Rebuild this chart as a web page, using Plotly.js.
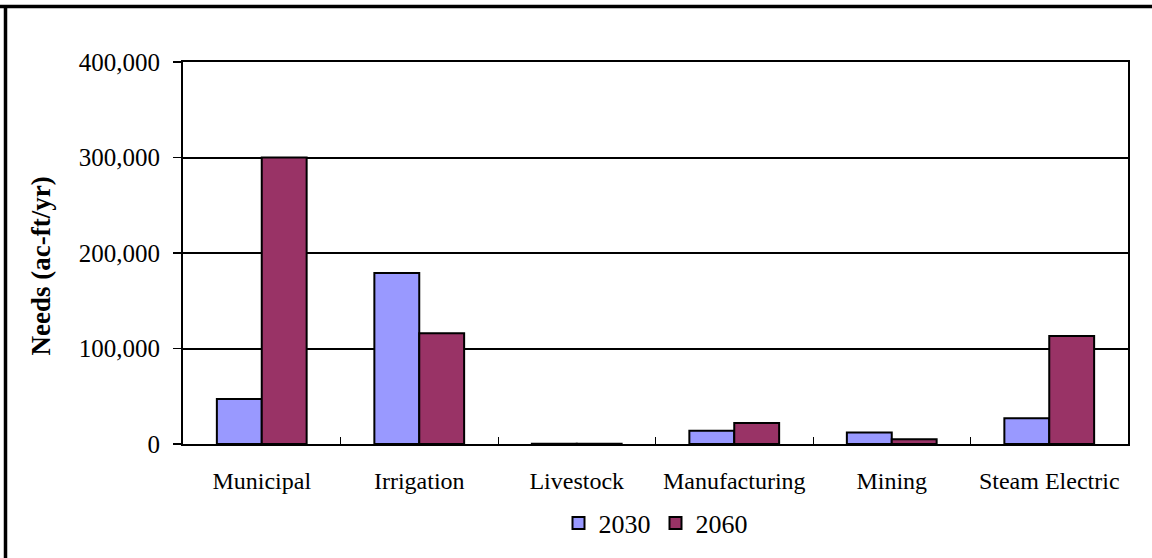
<!DOCTYPE html>
<html>
<head>
<meta charset="utf-8">
<script src="https://cdn.plot.ly/plotly-3.0.1.min.js"></script>
<style>
  html, body { margin: 0; padding: 0; background: #fff; }
  #chart { width: 1152px; height: 558px; }
</style>
</head>
<body>
<div id="chart"></div>
<script>
// Projected water needs by use category (ac-ft/yr)
const categories = ["Municipal", "Irrigation", "Livestock", "Manufacturing", "Mining", "Steam Electric"];
const seriesNames = ["2030", "2060"];
const needs2030 = [47000, 179000, 200, 14000, 12000, 27000];
const needs2060 = [300000, 116000, 300, 22000, 5000, 113000];
const yTickValues = [0, 100000, 200000, 300000, 400000];
const yTitle = "Needs (ac-ft/yr)";

const colors = ["#9999FF", "#993366"];
const serif = "Liberation Serif";

const W = 1152, H = 558;
const margin = { l: 183, r: 24, t: 62, b: 114 };
const plotW = W - margin.l - margin.r;
const plotH = H - margin.t - margin.b;
// pixel -> paper coordinates, for items placed outside the plot area
const px = x => (x - margin.l) / plotW;
const py = y => (H - margin.b - y) / plotH;

const traces = [needs2030, needs2060].map((vals, i) => ({
  type: "bar",
  name: seriesNames[i],
  x: categories,
  y: vals,
  marker: { color: colors[i], line: { color: "#000", width: 2 } },
  hoverinfo: "x+y+name"
}));

const layout = {
  width: W,
  height: H,
  margin: margin,
  paper_bgcolor: "#fff",
  plot_bgcolor: "#fff",
  font: { family: serif, color: "#000", size: 24 },
  barmode: "group",
  bargap: 0.43,
  bargroupgap: 0,
  showlegend: true,
  legend: {
    orientation: "h",
    x: 0.5, xanchor: "center",
    y: py(523), yanchor: "middle",
    font: { family: serif, size: 26, color: "#000" },
    traceorder: "normal",
    itemwidth: 30
  },
  xaxis: {
    type: "category",
    showline: true, linecolor: "#000", linewidth: 2, mirror: true,
    ticks: "inside", tickson: "boundaries", ticklen: 7, tickwidth: 1, tickcolor: "#000",
    tickfont: { family: serif, size: 24, color: "#000" },
    ticklabelstandoff: 14,
    showgrid: false,
    fixedrange: true
  },
  yaxis: {
    range: [0, 400000],
    tickvals: yTickValues,
    tickformat: ",d",
    showline: true, linecolor: "#000", linewidth: 2, mirror: true,
    ticks: "outside", ticklen: 8, tickwidth: 1.5, tickcolor: "#000",
    tickfont: { family: serif, size: 25, color: "#000" },
    ticklabelstandoff: 8,
    showgrid: true, gridcolor: "#000", gridwidth: 2,
    zeroline: false,
    fixedrange: true
  },
  annotations: [
    { text: "<b>" + yTitle + "</b>", xref: "paper", yref: "paper",
      x: px(40), y: py(266.5), xanchor: "center", yanchor: "middle",
      textangle: -90, showarrow: false,
      font: { family: serif, size: 27, color: "#000" } }
  ],
  shapes: [
    // figure frame: top and left edges
    { type: "line", xref: "paper", yref: "paper",
      x0: px(0), x1: px(W), y0: py(6.5), y1: py(6.5),
      line: { color: "#000", width: 3.5 } },
    { type: "line", xref: "paper", yref: "paper",
      x0: px(5.5), x1: px(5.5), y0: py(5), y1: py(H),
      line: { color: "#000", width: 3.5 } }
  ]
};

Plotly.newPlot("chart", traces, layout, { displayModeBar: false, staticPlot: true });
</script>
</body>
</html>
